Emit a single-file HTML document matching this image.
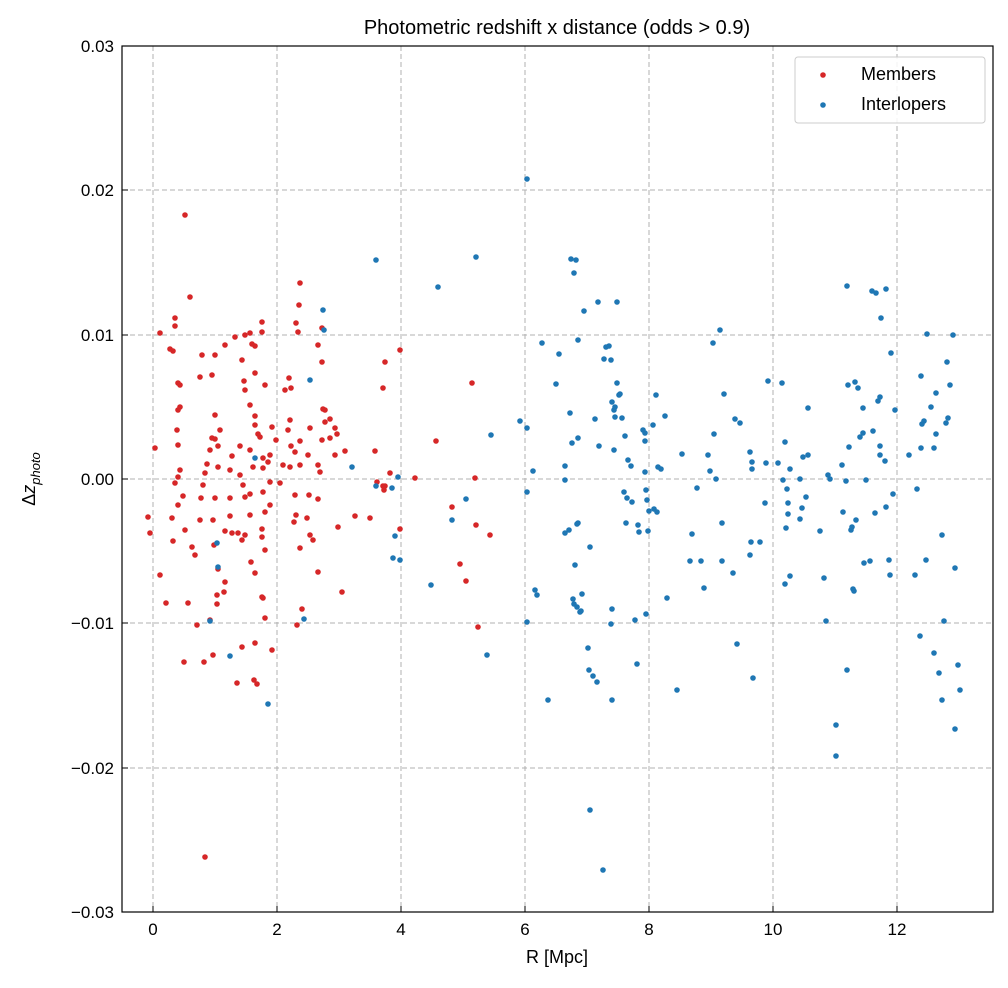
<!DOCTYPE html>
<html><head><meta charset="utf-8"><style>
html,body{margin:0;padding:0;background:#fff}
svg text{font-family:"Liberation Sans","DejaVu Sans",sans-serif;fill:#000}
</style></head><body>
<svg width="1008" height="983" viewBox="0 0 1008 983" xmlns="http://www.w3.org/2000/svg">
<rect width="1008" height="983" fill="#fff"/>
<text x="557" y="34" font-size="20" text-anchor="middle">Photometric redshift x distance (odds &gt; 0.9)</text>
<g stroke="#b0b0b0" stroke-dasharray="5,3" stroke-width="1">
<line x1="153" y1="46" x2="153" y2="912"/><line x1="277" y1="46" x2="277" y2="912"/><line x1="401" y1="46" x2="401" y2="912"/><line x1="525" y1="46" x2="525" y2="912"/><line x1="649" y1="46" x2="649" y2="912"/><line x1="773" y1="46" x2="773" y2="912"/><line x1="897" y1="46" x2="897" y2="912"/>
<line x1="122" y1="190" x2="993" y2="190"/><line x1="122" y1="335" x2="993" y2="335"/><line x1="122" y1="479" x2="993" y2="479"/><line x1="122" y1="623" x2="993" y2="623"/><line x1="122" y1="768" x2="993" y2="768"/>
</g>
<g id="pts"></g>
<rect x="122" y="46" width="871" height="866" fill="none" stroke="#000" stroke-width="1.2"/>
<g stroke="#000" stroke-width="1">
<line x1="153" y1="912" x2="153" y2="906"/><line x1="277" y1="912" x2="277" y2="906"/><line x1="401" y1="912" x2="401" y2="906"/><line x1="525" y1="912" x2="525" y2="906"/><line x1="649" y1="912" x2="649" y2="906"/><line x1="773" y1="912" x2="773" y2="906"/><line x1="897" y1="912" x2="897" y2="906"/>
<line x1="122" y1="46" x2="128" y2="46"/><line x1="122" y1="190" x2="128" y2="190"/><line x1="122" y1="335" x2="128" y2="335"/><line x1="122" y1="479" x2="128" y2="479"/><line x1="122" y1="623" x2="128" y2="623"/><line x1="122" y1="768" x2="128" y2="768"/><line x1="122" y1="912" x2="128" y2="912"/>
</g>
<g font-size="17" text-anchor="middle">
<text x="153" y="935">0</text><text x="277" y="935">2</text><text x="401" y="935">4</text><text x="525" y="935">6</text><text x="649" y="935">8</text><text x="773" y="935">10</text><text x="897" y="935">12</text>
</g>
<g font-size="17" text-anchor="end">
<text x="114" y="52">0.03</text><text x="114" y="196">0.02</text><text x="114" y="341">0.01</text><text x="114" y="485">0.00</text><text x="114" y="629">−0.01</text><text x="114" y="774">−0.02</text><text x="114" y="918">−0.03</text>
</g>
<text x="557" y="963" font-size="18" text-anchor="middle">R [Mpc]</text>
<text transform="translate(35,479) rotate(-90)" font-size="18" text-anchor="middle">Δ<tspan font-style="italic">z</tspan><tspan font-style="italic" font-size="13" dy="5">photo</tspan></text>
<rect x="795" y="57" width="190" height="66" rx="3" fill="#fff" fill-opacity="0.85" stroke="#ccc"/>
<circle cx="823" cy="75" r="2.8" fill="#d62728"/>
<circle cx="823" cy="105" r="2.8" fill="#1f77b4"/>
<text x="861" y="80" font-size="18">Members</text>
<text x="861" y="110" font-size="18">Interlopers</text>
</svg>
<script>
var R=[[185,215],[190,297],[160,333],[175,318],[175,326],[173,351],[178,383],[180,385],[170,349],[200,377],[202,355],[215,355],[212,375],[215,415],[225,345],[235,337],[245,335],[245,390],[244,381],[242,360],[255,373],[265,385],[255,346],[262,332],[262,322],[250,333],[252,344],[258,434],[255,416],[250,405],[285,390],[300,283],[299,305],[298,332],[296,323],[291,388],[289,378],[300,441],[310,428],[318,345],[322,328],[322,362],[335,455],[338,527],[302,609],[297,625],[263,598],[255,573],[251,562],[245,535],[238,533],[242,647],[255,643],[254,680],[257,684],[237,683],[242,540],[213,655],[204,662],[197,625],[184,662],[205,857],[188,603],[173,541],[166,603],[148,517],[150,533],[183,496],[178,505],[175,483],[178,477],[180,470],[178,445],[177,430],[178,410],[180,407],[185,530],[192,547],[195,555],[200,520],[201,498],[203,485],[205,473],[207,464],[210,450],[212,438],[215,439],[218,446],[218,467],[215,498],[213,520],[214,545],[218,569],[217,595],[217,604],[225,582],[225,531],[230,498],[230,470],[232,456],[240,446],[240,475],[243,485],[245,497],[250,494],[253,467],[250,450],[255,425],[260,437],[263,458],[263,468],[263,492],[265,512],[262,529],[265,550],[262,597],[262,537],[270,505],[270,482],[268,462],[270,455],[272,427],[276,440],[280,483],[283,465],[288,430],[290,420],[291,446],[290,467],[295,452],[296,515],[294,522],[300,548],[295,495],[300,465],[308,455],[309,495],[307,518],[310,535],[313,540],[318,572],[318,499],[320,472],[318,465],[322,440],[325,422],[323,409],[325,410],[330,419],[335,428],[330,438],[337,434],[345,451],[342,592],[355,516],[370,518],[375,451],[377,482],[383,486],[384,490],[385,486],[383,388],[385,362],[390,473],[400,350],[400,529],[415,478],[436,441],[452,507],[460,564],[466,581],[472,383],[475,478],[476,525],[478,627],[490,535],[232,533],[272,650],[265,618],[210,620],[224,592],[230,516],[220,430],[250,515],[160,575],[172,518],[155,448]];
var B=[[527,179],[376,260],[476,257],[438,287],[323,310],[324,330],[310,380],[255,458],[217,543],[218,567],[210,621],[230,656],[268,704],[304,619],[352,467],[376,486],[392,488],[398,477],[395,536],[400,560],[393,558],[431,585],[452,520],[466,499],[487,655],[491,435],[520,421],[527,428],[527,492],[527,622],[533,471],[535,590],[537,595],[542,343],[548,700],[556,384],[559,354],[565,466],[565,480],[565,533],[569,530],[570,413],[571,259],[574,273],[576,260],[572,443],[573,599],[574,604],[578,438],[578,523],[577,524],[575,565],[577,607],[580,612],[581,611],[582,594],[584,311],[578,340],[590,547],[588,648],[589,670],[590,810],[593,676],[595,419],[597,682],[598,302],[599,446],[603,870],[604,359],[606,347],[609,346],[611,360],[612,402],[612,609],[611,624],[612,700],[614,410],[614,450],[615,407],[615,417],[617,383],[617,302],[619,395],[620,394],[622,418],[624,492],[625,436],[626,523],[627,498],[628,460],[631,466],[632,502],[635,620],[637,664],[639,532],[638,525],[645,441],[645,472],[643,430],[646,490],[647,500],[648,531],[645,433],[646,614],[649,511],[653,425],[654,509],[656,395],[657,512],[658,467],[661,469],[665,416],[667,598],[677,690],[682,454],[690,561],[692,534],[697,488],[701,561],[704,588],[708,455],[710,471],[713,343],[714,434],[716,479],[720,330],[722,561],[722,523],[724,394],[733,573],[735,419],[737,644],[740,423],[750,452],[750,555],[751,542],[753,678],[752,469],[752,462],[760,542],[766,463],[768,381],[765,503],[778,463],[782,383],[790,469],[790,576],[783,480],[785,442],[788,503],[788,514],[785,584],[787,489],[786,528],[800,519],[800,479],[803,457],[802,508],[806,497],[808,455],[808,408],[820,531],[824,578],[826,621],[828,475],[830,479],[836,756],[836,725],[842,465],[843,512],[846,481],[847,670],[847,286],[848,385],[849,447],[851,530],[852,527],[853,589],[854,591],[855,382],[856,520],[858,388],[860,437],[863,408],[863,433],[864,563],[866,480],[870,561],[872,291],[873,431],[875,513],[876,293],[878,401],[880,397],[880,455],[880,446],[881,318],[885,461],[886,289],[886,507],[889,560],[890,575],[891,353],[893,494],[895,410],[909,455],[915,575],[917,489],[920,636],[921,448],[921,376],[922,424],[924,421],[926,560],[927,334],[931,407],[936,434],[936,393],[934,448],[934,653],[939,673],[942,700],[942,535],[944,621],[946,423],[947,362],[948,418],[950,385],[953,335],[955,729],[955,568],[958,665],[960,690]];
var g=document.getElementById('pts'),s='';
R.forEach(function(p){s+='<circle cx="'+p[0]+'" cy="'+p[1]+'" r="2.8" fill="#d62728"/>';});
B.forEach(function(p){s+='<circle cx="'+p[0]+'" cy="'+p[1]+'" r="2.8" fill="#1f77b4"/>';});
g.innerHTML=s;
</script>
</body></html>
